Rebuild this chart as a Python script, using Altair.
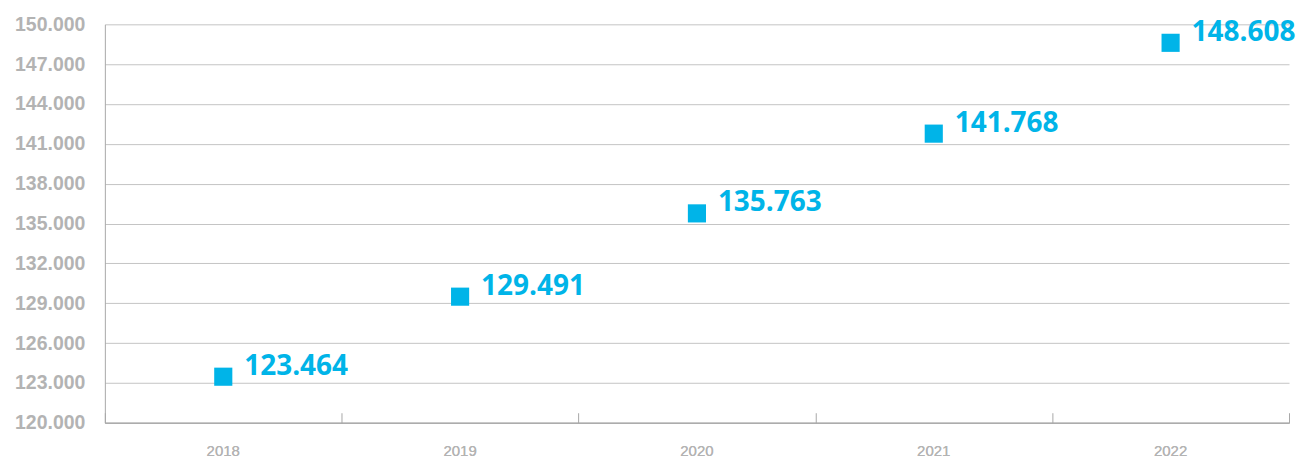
import altair as alt
import pandas as pd

years = ["2018", "2019", "2020", "2021", "2022"]
values = [123464, 129491, 135763, 141768, 148608]
y_ticks = list(range(120000, 150001, 3000))

df = pd.DataFrame({"year": years, "value": values})

CYAN = "#00b4e8"
GRAY_TXT = "#b3b3b3"
GRID = "#c4c4c4"
fmt = "replace(format(datum.value, ','), ',', '.')"

xscale = alt.Scale(type="band", paddingInner=0, paddingOuter=0, domain=years)
yscale = alt.Scale(domain=[120000, 150000], nice=False, zero=False)

base = alt.Chart(df).transform_calculate(
    label="replace(format(datum.value, ','), ',', '.')"
).encode(
    x=alt.X("year:N", scale=xscale, sort=years,
            axis=alt.Axis(orient="bottom", title=None, ticks=False, domain=True,
                          domainColor="#a8a8a8", labelAngle=0, labelPadding=21,
                          labelFont="Liberation Sans", labelFontSize=15,
                          labelColor=GRAY_TXT, grid=False)),
    y=alt.Y("value:Q", scale=yscale,
            axis=alt.Axis(values=y_ticks, labelExpr=fmt, title=None, ticks=False,
                          domain=True, domainColor="#a8a8a8", grid=True,
                          gridColor=GRID, gridWidth=1, labelPadding=20,
                          labelFont="Liberation Sans", labelFontSize=19.5,
                          labelFontWeight="bold", labelColor=GRAY_TXT)),
)

points = base.mark_square(size=330, color=CYAN, opacity=1)

labels = base.mark_text(align="left", baseline="middle", dx=21, dy=-10,
                        font="Open Sans", fontWeight="bold", fontSize=28,
                        color=CYAN).encode(text="label:N")

ticks = alt.Chart(df).mark_square(opacity=0).encode(
    x=alt.X("year:N", scale=xscale, sort=years,
            axis=alt.Axis(orient="top", offset=-399, title=None, labels=False,
                          domain=False, ticks=True, tickBand="extent", tickSize=10,
                          tickColor="#a8a8a8", grid=False)),
    y=alt.value(0),
)

chart = alt.layer(points, labels, ticks).properties(
    width=1186, height=399,
    autosize=alt.AutoSizeParams(type="none"),
    padding={"left": 97, "top": 16, "right": 8, "bottom": 38},
    background="white",
).configure_view(stroke=None)

chart.save("out.html", embed_options={"renderer": "svg", "actions": False})
